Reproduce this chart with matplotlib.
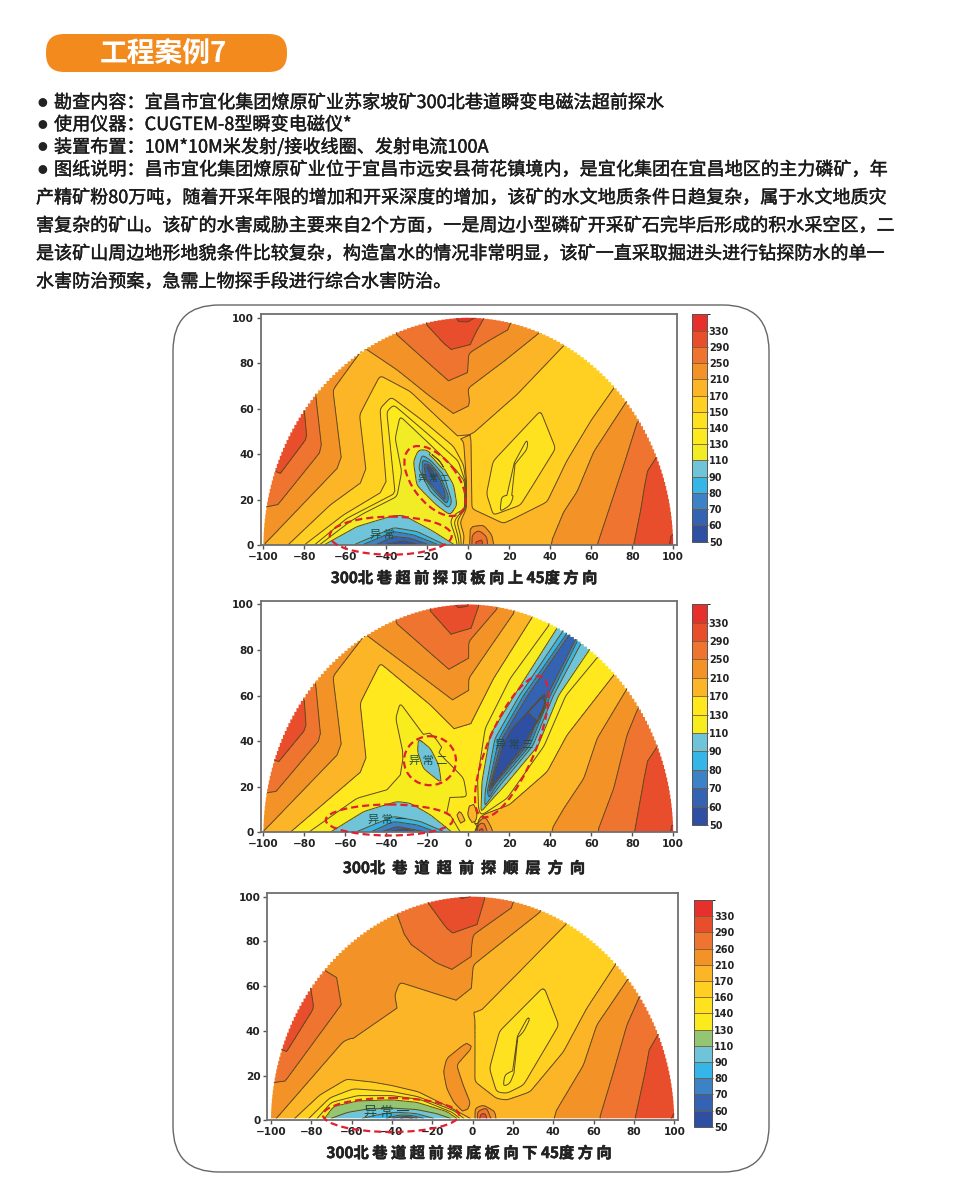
import numpy as np
import matplotlib
matplotlib.use("Agg")
import matplotlib.pyplot as plt
import matplotlib.patheffects as pe
import matplotlib.tri as mtri
from matplotlib.cm import ScalarMappable
from matplotlib.colors import BoundaryNorm, ListedColormap
from matplotlib.patches import Ellipse, FancyBboxPatch, Polygon

plt.rcParams["font.family"] = ["Noto Sans CJK SC", "DejaVu Sans"]

W, H = 960, 1201

TITLE = "工程案例7"
INFO_LINES = [
    "勘查内容：宜昌市宜化集团燎原矿业苏家坡矿300北巷道瞬变电磁法超前探水",
    "使用仪器：CUGTEM-8型瞬变电磁仪*",
    "装置布置：10M*10M米发射/接收线圈、发射电流100A",
    "图纸说明：昌市宜化集团燎原矿业位于宜昌市远安县荷花镇境内，是宜化集团在宜昌地区的主力磷矿，年",
]
BODY_LINES = [
    "产精矿粉80万吨，随着开采年限的增加和开采深度的增加，该矿的水文地质条件日趋复杂，属于水文地质灾",
    "害复杂的矿山。该矿的水害威胁主要来自2个方面，一是周边小型磷矿开采矿石完毕后形成的积水采空区，二",
    "是该矿山周边地形地貌条件比较复杂，构造富水的情况非常明显，该矿一直采取掘进头进行钻探防水的单一",
    "水害防治预案，急需上物探手段进行综合水害防治。",
]
P1_CAPTION = "300北 巷 超 前 探 顶 板 向 上 45度 方 向"
P2_CAPTION = "300北  巷  道  超  前  探  顺  层  方  向"
P3_CAPTION = "300北 巷 道 超 前 探 底 板 向 下 45度 方 向"

X_TICKS = [-100, -80, -60, -40, -20, 0, 20, 40, 60, 80, 100]
Y_TICKS = [0, 20, 40, 60, 80, 100]

P1_LEVELS = [50, 60, 70, 80, 90, 110, 130, 140, 150, 170, 210, 250, 290, 330, 370]
P2_LEVELS = [50, 60, 70, 80, 90, 110, 130, 170, 210, 250, 290, 330, 370]
P3_LEVELS = [50, 60, 70, 80, 90, 110, 130, 140, 160, 170, 210, 260, 290, 330, 370]

P1_COLORS = ["#2F4FA2", "#3363B2", "#3C82C6", "#35B5E8", "#6FC4D9", "#F2EC27", "#FBEB1E",
             "#FEE21F", "#FFD022", "#FBB526", "#F39327", "#EE7430", "#E94E2C", "#E7302C"]
P2_COLORS = ["#2F4FA2", "#3363B2", "#3C82C6", "#35B5E8", "#6FC4D9", "#F6EC1E", "#FFE81E",
             "#FBB526", "#F39327", "#EE7430", "#E94E2C", "#E7302C"]
P3_COLORS = ["#2F4FA2", "#3363B2", "#3C82C6", "#35B5E8", "#6FC4D9", "#93C572", "#FBEB1E",
             "#FEE21F", "#FFD022", "#FBB526", "#F39327", "#EE7430", "#E94E2C", "#E7302C"]

# field samples: value -> traces of (x, y) where the field has that value
P1_330 = [[(-6, 99.8), (-3, 96.5), (-0.5, 98), (3.5, 100)],
          [(98, 0), (99.6, 8)]]
P1_310 = [[(-84, 54), (-89, 45), (-92, 36)]]
P1_290 = [[(-80, 59.4), (-78.7, 47), (-91.7, 31.5)],
          [(-21, 97.5), (-12, 88.7), (-2.3, 81.4), (0.2, 86.5), (3.4, 93), (7.5, 99.5)],
          [(80.6, 0), (83.9, 14.7), (86.3, 27.9), (89.6, 42.5)],
          [(3.7, 0.3), (3.9, 3.4), (6.7, 2.9), (7, 0.3)]]
P1_250 = [[(-74.6, 67.2), (-71.4, 41.8), (-96.3, 13.9)],
          [(-35.6, 93), (-18.5, 79.2), (-2.3, 66.3), (-0.3, 76.2), (0.2, 84.3), (10.7, 90.2), (22, 96)],
          [(62.8, 0), (69.3, 17.6), (75.8, 35.2), (83, 55.7)],
          [(1.8, 0.3), (1.8, 4.4), (5, 6.6), (9.1, 3.7), (9.4, 0.3)]]
P1_210 = [[(-99, 0.7), (-61.6, 35.9), (-66, 68.2), (-51, 86.8), (-34.8, 77), (-18.5, 65.2),
           (-2.3, 54.5), (0.7, 63), (-0.2, 68.9), (17.2, 80.6), (34.3, 93)],
          [(39.7, 0), (46.5, 14.7), (53, 23.5), (61.1, 41), (77.4, 63.5)],
          [(0.7, 0.7), (1, 8), (7.5, 8.8), (11.5, 4.4), (12.4, 0.3)]]
P1_190 = [[(0.2, 47), (0.3, 30), (0.5, 16), (0.2, 10), (-0.5, 3)]]
P1_170 = [[(-87.6, 0.3), (-67.3, 17.6), (-49.4, 29.3), (-53, 57.2), (-43, 74.5), (-28.3, 67.5),
           (-13.7, 55), (-2.3, 45.5), (-0.9, 28), (-0.9, 16), (-2, 14), (-4, 10), (-2, 4), (-2.5, 0.3)],
          [(47.3, 88.3), (23.7, 66), (1.8, 48.7), (0.3, 49), (1.3, 47), (1.8, 16), (17.2, 9.5),
           (38.4, 19), (48, 37), (60, 55), (72.5, 71)]]
P1_150 = [[(-79.5, 0.3), (-60.8, 13.2), (-39.7, 24.6), (-43, 60), (-37.6, 65), (-21.8, 54.3),
           (-7.2, 43.3), (-2.3, 35.2), (-1.2, 28), (-1.2, 16), (-4, 13), (-5.5, 10), (-3.7, 3.7), (-3.5, 0.3)],
          [(35.1, 58.7), (12.2, 36.7), (9, 22.6), (12.2, 13.2), (25.4, 17.6), (42.5, 42.5), (35.1, 58.7)]]
P1_140 = [[(-74.6, 0.3), (-59.2, 11.7), (-35.6, 22.7), (-39.7, 58.7), (-36.4, 61.6), (-20.2, 49.1),
           (-5, 37), (-1.5, 28), (-1.5, 16), (-5.5, 12.5), (-7, 10), (-5, 3.7), (-4.5, 0.3)],
          [(28.6, 46.2), (22.1, 35.2), (28.6, 42.5), (28.6, 46.2)],
          [(15.6, 14.7), (16.4, 21.3), (22.1, 22), (20.5, 17.6), (15.6, 14.7)]]
P1_130 = [[(-72.2, 0.3), (-57.6, 10.3), (-51, 13.9), (-34.8, 21.3), (-32.4, 32.3), (-35.6, 46.9),
           (-33.2, 56.5), (-18.5, 44), (-6, 33), (-1.8, 28), (-1.8, 16), (-7.2, 13.2), (-8.8, 10.3),
           (-6.3, 3.7), (-5.5, 0.3)]]
P1_120 = [[(-62, 5), (-45, 13), (-30, 16), (-30, 30), (-30, 46), (-20, 42), (-10, 32), (-4, 24),
           (-3.5, 16), (-9, 11.5), (-12, 9)],
          [(-30, 16), (-18, 12), (-12, 9), (-8, 4)]]
P1_110 = [[(-69.8, 0.3), (-54.3, 8.1), (-36.4, 12.9), (-31.5, 12.9), (-18.5, 6.6), (-7.2, 0.3)],
          [(-24.2, 41.8), (-26.7, 36.7), (-25, 26.4), (-15.3, 17.6), (-8.8, 13.2), (-5.6, 17.6),
           (-7.2, 26.4), (-13.7, 36.7), (-20.2, 41.8), (-24.2, 41.8)]]
P1_90 = [[(-55, 0.3), (-44.5, 4.4), (-36.4, 7.6), (-25, 5.9), (-12, 0.3)],
         [(-22.6, 39.6), (-24.2, 33.7), (-18.5, 23.5), (-9.6, 16.1), (-8, 19), (-12, 30.8), (-18.5, 37.4), (-22.6, 39.6)]]
P1_80 = [[(-51, 0.3), (-36.4, 5.9), (-26.7, 4.4), (-15.3, 0.3)],
         [(-22.4, 37.5), (-22.5, 31), (-17, 24), (-10.4, 18), (-9.5, 21), (-14, 31), (-19, 36.5), (-22.4, 37.5)]]
P1_70 = [[(-44.5, 0.3), (-36.4, 3.7), (-28.3, 2.9), (-20, 0.3)],
         [(-21.8, 35.9), (-20.5, 29), (-15, 23.5), (-11.2, 19.5), (-11.5, 23.5), (-15, 31), (-18.5, 35.2), (-21.8, 35.9)]]
P1_60 = [[(-39.7, 0.3), (-31.5, 1.8), (-25, 0.3)],
         [(-20.5, 34.5), (-18.5, 30.8), (-16, 27.9), (-16.9, 31.5), (-19, 34.8), (-20.5, 34.5)]]
P1_EXTRA_X = [-106, 106, -1, 5, -96]
P1_EXTRA_Y = [-3, -3, 104, 0, 50]
P1_EXTRA_V = [225, 345, 345, 310, 310]

P2_330 = [[(-6.3, 99.8), (-3, 96.8), (-1, 98), (0, 100)],
          [(98.5, 0), (100, 6)]]
P2_310 = [[(-84, 54), (-89, 45), (-92.5, 35)]]
P2_290 = [[(-80, 58), (-79, 45.6), (-92.5, 31)],
          [(-18.5, 97), (-2.3, 80.7), (0.2, 86.5), (5, 99)],
          [(81, 0), (86.3, 26.6), (89.6, 41.2)],
          [(5.2, 0), (5.5, 2.5), (7, 1.8), (7.5, 0)]]
P2_250 = [[(-74.6, 66.4), (-71.9, 41.2), (-96.6, 14.9)],
          [(-35.6, 92), (-2.3, 65.8), (0.2, 74.9), (0.2, 83.6), (14, 98)],
          [(62.8, 0), (70.9, 19.3), (77.4, 42.7), (83, 55)],
          [(4.2, 0), (4.7, 3.2), (7.5, 4.7), (9.4, 0)]]
P2_210 = [[(-100, 0.3), (-61.6, 36.1), (-66, 68.3), (-50.2, 86.8), (-18.5, 65.4), (-2.3, 54.4),
           (0.2, 58.8), (0.2, 67.5), (22.1, 96)],
          [(39.7, 0), (46.5, 10.5), (56.3, 23.7), (62.8, 41.2), (77.7, 63.5)],
          [(3.4, 0), (5, 4.7), (8.3, 6.9), (11.5, 1.8), (11.9, 0)]]
P2_190 = [[(-3.8, 7.5), (-3, 5.5)], [(1.8, 10), (2, 6)]]
P2_170 = [[(-86.8, 0), (-49.4, 28.8), (-52.7, 56.6), (-42.9, 74.1), (-18.5, 55.8), (-1.5, 40.5),
           (1.3, 47.8), (12.4, 67.5), (31, 94)],
          [(72.5, 70.8), (48.1, 42.7), (38.4, 26.6), (19.7, 12), (8, 8), (5.5, 6.5), (4, 2), (3, 0)],
          [(-6.3, 9.5), (-3.5, 9), (-1, 4), (-1.5, 1.5), (-4.5, 5), (-6.3, 9.5)],
          [(1, 13.5), (3.1, 12), (4.5, 7), (2.6, 3.2), (-0.5, 7.6), (1, 13.5)]]
P2_150 = [[(1.5, 38), (1, 30), (1, 18)], [(0, 0.3), (-0.5, 10)]]
P2_130 = [[(-77.9, 0), (-54.3, 14.9), (-34, 20), (-31.5, 33.9), (-35.3, 50), (-33.2, 56.6),
           (-21.8, 42.7), (-12, 32.5), (-2.3, 23.7), (-0.7, 15.6), (-12, 15.2), (-17.7, 16.8),
           (-21, 14.2), (-16.9, 12), (-8.8, 7.6), (-3.9, 0)],
          [(39.2, 90.6), (20.5, 67.5), (8.3, 45.6), (4.6, 23.7), (5, 10.5), (5.8, 8), (6.7, 7.6),
           (18.9, 14.9), (37, 38), (47.5, 60), (63.6, 77.5)]]
P2_120 = [[(-62, 5), (-45, 13), (-30, 15), (-28, 25), (-29, 40), (-27, 46), (-18, 40), (-9, 27), (-6, 21)],
          [(-30, 15), (-17, 9.7), (-9, 4), (-6, 1.5)],
          [(-28, 25), (-20, 20), (-10, 19), (-6, 21)]]
P2_110 = [[(-67.3, 0), (-51, 9.1), (-34.8, 13.5), (-28.3, 12.7), (-18.5, 7.6), (-8, 0)],
          [(-24.2, 40.9), (-24.7, 35.4), (-21.8, 28.1), (-13.3, 21.9), (-14.5, 29.5), (-18.5, 36.8), (-24.2, 40.9)],
          [(43.3, 89.5), (22.5, 60), (10.7, 42.7), (6.7, 22.2), (6.2, 9), (9.1, 12), (18, 20.8),
           (34, 38), (44, 60), (59.5, 80.7)]]
P2_90 = [[(-55, 0), (-36.4, 6.9), (-23.4, 4.7), (-11.2, 0)],
         [(46.5, 88.7), (25, 60), (13, 41), (8.3, 18), (8, 11.5), (10, 14), (15.6, 20.8), (31.5, 38),
          (41.5, 60), (55.4, 83.6)]]
P2_80 = [[(-47.8, 0), (-36.4, 4.7), (-25, 3.2), (-15.3, 0)],
         [(48.5, 87.7), (27, 60), (15, 41), (9.3, 18), (10, 15), (14, 20.8), (30, 38), (40, 60), (53.8, 85.1)]]
P2_70 = [[(-42.9, 0), (-34.8, 2.5), (-20, 0)],
         [(49.8, 87.3), (29, 60), (16.5, 41), (9.9, 18), (10.5, 17.5), (12.4, 20.8), (28.5, 38), (38.5, 60), (53, 85.8)]]
P2_60 = [[(-38.9, 0), (-31.5, 1.5), (-24.2, 0)],
         [(37.6, 61), (21, 45), (17, 38), (10.7, 19.3), (12, 21), (27, 38), (37, 55), (37.6, 61)]]
P2_EXTRA_X = [-106, 106, -2, 6.2, 6.2, -97]
P2_EXTRA_Y = [-3, -3, 104, 0, -3, 48]
P2_EXTRA_V = [225, 345, 345, 310, 310, 310]

P3_330 = [[(-6.3, 99.8), (-2.1, 96.6), (-1, 100)],
          [(98, 0), (100, 3.9)]]
P3_310 = [[(-84.5, 53), (-89, 45), (-92.5, 36)]]
P3_290 = [[(-80.3, 59.8), (-78.7, 50.1), (-92.2, 30.7)],
          [(-22, 97), (-12.9, 85.8), (-4.6, 79.9), (-0.5, 82.9), (1.2, 84.4), (6, 99)],
          [(80.5, 0.9), (85.5, 21.8), (89.6, 42.6)],
          [(3.6, 0.9), (4, 3.1), (6.6, 3.1), (6.9, 0.9)]]
P3_260 = [[(-37.7, 92.5), (-32.7, 79.9), (-17.9, 70.2), (-4.6, 65.3), (-1, 65.7), (-0.5, 77.6),
           (0.3, 82.9), (21, 96)],
          [(-74.4, 67.7), (-62.5, 61.3), (-58.8, 60.5), (-63.3, 53.8), (-95.5, 14.3)],
          [(62.8, 0.9), (69.8, 21.8), (76.4, 42.6), (83, 56)],
          [(2.5, 0.9), (2.3, 3.9), (6.9, 5.7), (9.1, 0.9)]]
P3_225 = [[(-3.5, 32.5), (-10, 24), (-11.5, 20), (-9, 13), (-5, 7)]]
P3_210 = [[(33.4, 93), (0.3, 69.4), (-1, 54.5), (-6.3, 53.1), (-36, 61.6), (-38.5, 56), (-34.4, 35.2),
           (-38.5, 22.5), (-47.6, 24.7), (-56.7, 32.2), (-59.2, 37), (-64.1, 35.2), (-97.2, 0.9)],
          [(39.2, 0.9), (45, 9.8), (54.9, 24.7), (61.5, 42.6), (77.5, 63.8)],
          [(-1, 35.2), (-4.6, 33.7), (-12.9, 27.7), (-14.5, 21.8), (-12.9, 14.3), (-9.6, 8.3),
           (-6.3, 5.1), (-3.5, 3), (-1, 7.6), (-4.6, 15.8), (-7.9, 24.7), (-0.5, 32.2), (-1, 35.2)],
          [(1.2, 0.9), (1.2, 5.4), (5.3, 6.9), (11.1, 3.9), (11.6, 0.9)]]
P3_170 = [[(71.9, 71.2), (56.5, 50), (45, 30.7), (28.4, 12.8), (16.9, 9.1), (11.9, 9.8), (1.2, 17.3),
           (1.2, 45.6), (0.3, 48.9), (2.8, 47.8), (21.8, 65), (46.9, 88.1)],
          [(-88.1, 0.9), (-75.7, 11.3), (-62.5, 18.3), (-49.3, 17), (-40, 15.5), (-27, 12.7), (-9.6, 5), (-1.3, 0.9)]]
P3_160 = [[(35, 59), (13.6, 39.6), (8.6, 23.2), (11.9, 12.8), (16.9, 12.1), (25.1, 15.8), (42.5, 42.6), (35, 59)],
          [(-81, 0.9), (-70.7, 10), (-59, 14), (-40, 12.8), (-27, 10.5), (-9, 4.2), (-4.5, 0.9)]]
P3_140 = [[(27.6, 46.3), (21.8, 36.7), (25.1, 39.6), (28.4, 45.6), (27.6, 46.3)],
          [(21, 22.5), (16, 20.3), (15.2, 15.1), (18.5, 16.5), (21, 22.5)],
          [(-77, 0.9), (-70, 8), (-57, 11), (-40, 11), (-26, 9.3), (-10, 3.5), (-6.5, 0.9)]]
P3_130 = [[(-73.2, 0.9), (-69, 6.1), (-56.8, 8.6), (-40, 9.1), (-27.7, 8), (-12.8, 3.9), (-7.9, 0.9)]]
P3_110 = [[(-69.9, 0.9), (-62, 3.5), (-52, 5), (-40, 5.4), (-28, 4.8), (-18, 3), (-11.2, 0.9)]]
P3_90 = [[(-54.4, 0.9), (-45, 2.8), (-38, 3.6), (-28, 3), (-19.6, 0.9)]]
P3_80 = [[(-42.6, 0.9), (-36, 2.4), (-30, 2.1), (-24.6, 0.9)]]
P3_70 = [[(-39.4, 0.9), (-33, 1.8), (-27.7, 0.9)]]
P3_60 = [[(-35.5, 0.9), (-33, 1.2), (-30, 0.9)]]
P3_EXTRA_X = [-106, 106, -3, 5.2, 5.2, -97]
P3_EXTRA_Y = [-3, -3, 104, 0.9, -3, 48]
P3_EXTRA_V = [225, 345, 345, 310, 310, 310]

P1_TRACES = {330: P1_330, 310: P1_310, 290: P1_290, 250: P1_250, 210: P1_210, 190: P1_190, 170: P1_170,
             150: P1_150, 140: P1_140, 130: P1_130, 120: P1_120, 110: P1_110, 90: P1_90, 80: P1_80,
             70: P1_70, 60: P1_60}
P2_TRACES = {330: P2_330, 310: P2_310, 290: P2_290, 250: P2_250, 210: P2_210, 190: P2_190, 170: P2_170,
             150: P2_150, 130: P2_130, 120: P2_120, 110: P2_110, 90: P2_90, 80: P2_80, 70: P2_70, 60: P2_60}
P3_TRACES = {330: P3_330, 310: P3_310, 290: P3_290, 260: P3_260, 225: P3_225, 210: P3_210, 170: P3_170,
             160: P3_160, 140: P3_140, 130: P3_130, 110: P3_110, 90: P3_90, 80: P3_80, 70: P3_70, 60: P3_60}

HEAVY = [pe.withStroke(linewidth=0.3, foreground="#1A1A1A")]
CAPTION_HEAVY = [pe.withStroke(linewidth=0.4, foreground="#222222")]


def px_rect(left, top, right, bottom):
    return [left / W, 1 - bottom / H, (right - left) / W, (bottom - top) / H]


def refine_trace(line, step=1.0):
    # walk a trace at a fine step and round its corners a little, so the triangulation
    # follows the trace instead of cutting across it
    pts = np.array(line, dtype=float)
    closed = line[0] == line[-1]
    d = np.r_[0, np.cumsum(np.hypot(*np.diff(pts, axis=0).T))]
    n = max(int(d[-1] / step), 3)
    t = np.linspace(0, d[-1], n + 1)
    x, y = np.interp(t, d, pts[:, 0]), np.interp(t, d, pts[:, 1])
    kernel = np.array([1, 2, 1]) / 4
    for _ in range(2):
        if closed:
            x[:-1] = np.convolve(np.r_[x[-2], x[:-1], x[0]], kernel, "valid")
            y[:-1] = np.convolve(np.r_[y[-2], y[:-1], y[0]], kernel, "valid")
            x[-1], y[-1] = x[0], y[0]
        else:
            x[1:-1] = np.convolve(x, kernel, "valid")
            y[1:-1] = np.convolve(y, kernel, "valid")
    return x, y


def collect_samples(traces, ex, ey, ev):
    xs, ys, vs = list(ex), list(ey), list(ev)
    for value, lines in traces.items():
        for line in lines:
            fx, fy = refine_trace(line)
            xs += list(fx)
            ys += list(fy)
            vs += [value] * len(fx)
            # run the open ends of a trace out past the edge of the fan
            if line[0] != line[-1]:
                for x, y in (line[0], line[-1]):
                    r = np.hypot(x, y)
                    if y < 1.5:
                        xs.append(x)
                        ys.append(-3)
                        vs.append(value)
                    elif r >= 95:
                        xs.append(x * 107 / r)
                        ys.append(y * 107 / r)
                        vs.append(value)
    pts, idx = np.unique(np.round(np.column_stack([xs, ys]), 3), axis=0, return_index=True)
    return pts[:, 0], pts[:, 1], np.array(vs, dtype=float)[idx]


def fan_clip(ax, floor):
    # stepped half disc, the original grid leaves a jagged rim
    angles = np.radians(np.arange(180, -0.01, -1.1))
    px, py = 100 * np.cos(angles), 100 * np.sin(angles)
    verts = [(-100, floor)]
    for i in range(len(angles) - 1):
        low = min(py[i], py[i + 1])
        verts += [(max(px[i], -100), max(low, floor)), (px[i + 1], max(low, floor))]
        verts.append((px[i + 1], max(py[i + 1], floor)))
    verts.append((100, floor))
    return Polygon(verts, closed=True, transform=ax.transData)


def draw_fan(ax, traces, extra, levels, colors, xlim, floor=0.0):
    x, y, v = collect_samples(traces, *extra)
    tri = mtri.Triangulation(x, y)
    # small offset so flat triangles on a level stay in the band below it
    inner = [lv + 0.25 for lv in levels[1:-1]]
    bounds = [0] + inner + [1000]
    fill = ax.tricontourf(tri, v, levels=bounds, colors=colors)
    lines = ax.tricontour(tri, v, levels=inner, colors="#5E4A20", linewidths=0.7)
    clip = fan_clip(ax, floor)
    fill.set_clip_path(clip)
    lines.set_clip_path(clip)

    ax.set_xlim(*xlim)
    ax.set_ylim(0, 101.5)
    ax.set_xticks(X_TICKS)
    ax.set_yticks(Y_TICKS)
    ax.tick_params(length=3, width=1, color="#555555", pad=2)
    for lab in ax.get_xticklabels() + ax.get_yticklabels():
        lab.set_family("DejaVu Sans")
        lab.set_fontweight("bold")
        lab.set_fontsize(7.6)
        lab.set_color("#222222")
    for sp in ax.spines.values():
        sp.set_color("#707070")
        sp.set_linewidth(1.3)


def draw_bar(cax, levels, colors):
    norm = BoundaryNorm(levels, len(colors))
    cb = plt.colorbar(ScalarMappable(norm=norm, cmap=ListedColormap(colors)), cax=cax,
                      spacing="uniform", ticks=levels[:-1], drawedges=True)
    cb.dividers.set_color("#7A5A30")
    cb.dividers.set_linewidth(0.6)
    cb.outline.set_edgecolor("#555555")
    cb.outline.set_linewidth(0.7)
    cb.ax.tick_params(length=1, width=0.5, pad=0.5, labelsize=7)
    for lab in cb.ax.get_yticklabels():
        lab.set_family("DejaVu Sans")
        lab.set_fontweight("bold")
        lab.set_color("#222222")


fig = plt.figure(figsize=(W / 100, H / 100), dpi=100, facecolor="white")

ax1 = fig.add_axes(px_rect(260.7, 314.3, 677.3, 545))
ax2 = fig.add_axes(px_rect(260.7, 601, 677.3, 832.3))
ax3 = fig.add_axes(px_rect(267.3, 893.3, 678.3, 1120.3))

draw_fan(ax1, P1_TRACES, (P1_EXTRA_X, P1_EXTRA_Y, P1_EXTRA_V), P1_LEVELS, P1_COLORS, (-101.3, 102))
draw_fan(ax2, P2_TRACES, (P2_EXTRA_X, P2_EXTRA_Y, P2_EXTRA_V), P2_LEVELS, P2_COLORS, (-101.3, 102))
draw_fan(ax3, P3_TRACES, (P3_EXTRA_X, P3_EXTRA_Y, P3_EXTRA_V), P3_LEVELS, P3_COLORS, (-101.8, 102), floor=0.9)

draw_bar(fig.add_axes(px_rect(692.3, 314.3, 706.7, 541.7)), P1_LEVELS, P1_COLORS)
draw_bar(fig.add_axes(px_rect(691.7, 604.3, 706.7, 825)), P2_LEVELS, P2_COLORS)
draw_bar(fig.add_axes(px_rect(694.3, 900, 712.3, 1126.7)), P3_LEVELS, P3_COLORS)

# page furniture in pixel coordinates on top of everything
page = fig.add_axes([0, 0, 1, 1], facecolor="none")
page.set_xlim(0, W)
page.set_ylim(H, 0)
page.axis("off")

page.add_patch(FancyBboxPatch((46, 34), 241, 38, boxstyle="round,pad=0,rounding_size=18",
                              facecolor="#F28A1E", edgecolor="none"))
page.text(163, 55, TITLE, color="white", fontsize=20, fontweight="bold", ha="center", va="center")

page.add_patch(FancyBboxPatch((173, 305), 596, 867, boxstyle="round,pad=0,rounding_size=46",
                              facecolor="none", edgecolor="#666666", linewidth=1.0))

for y, line in zip([103, 125, 147, 170], INFO_LINES):
    page.text(42, y, "●", fontsize=7, color="#222222", ha="center", va="center")
    page.text(54, y, line, fontsize=13.05, color="#1A1A1A", ha="left", va="center", path_effects=HEAVY)
for y, line in zip([198, 226, 254, 282], BODY_LINES):
    page.text(36, y, line, fontsize=13, color="#1A1A1A", ha="left", va="center", path_effects=HEAVY)

for x, y, cap in [(464, 578, P1_CAPTION), (464, 868, P2_CAPTION), (469, 1153, P3_CAPTION)]:
    page.text(x, y, cap, fontsize=11, fontweight="bold", color="#222222", ha="center", va="center",
              path_effects=CAPTION_HEAVY)

# hand-drawn anomaly rings and their labels
for cx, cy, w, h, ang in [(390.7, 535.7, 122, 38, 0), (435, 481, 82, 44, 52),
                          (389.3, 820, 127, 31, 0), (430, 760.7, 52, 49, 0),
                          (511.7, 746.7, 152, 47, -67), (391, 1115, 136, 34, 0)]:
    page.add_patch(Ellipse((cx, cy), w, h, angle=ang, fill=False, edgecolor="#E0202E",
                           linewidth=1.6, linestyle=(0, (3.2, 1.8))))
for x, y, s, size in [(382, 535, "异 常", 8), (433, 478, "异 常 二", 6.5), (387, 820, "异 常 一", 8),
                      (428, 761, "异 常 二", 8), (514, 745, "异 常 三", 8), (387, 1112, "异 常 一", 9.5)]:
    page.text(x, y, s, fontsize=size, color="#1F4A40", ha="center", va="center")

fig.savefig("out.png", dpi=100, facecolor="white")
